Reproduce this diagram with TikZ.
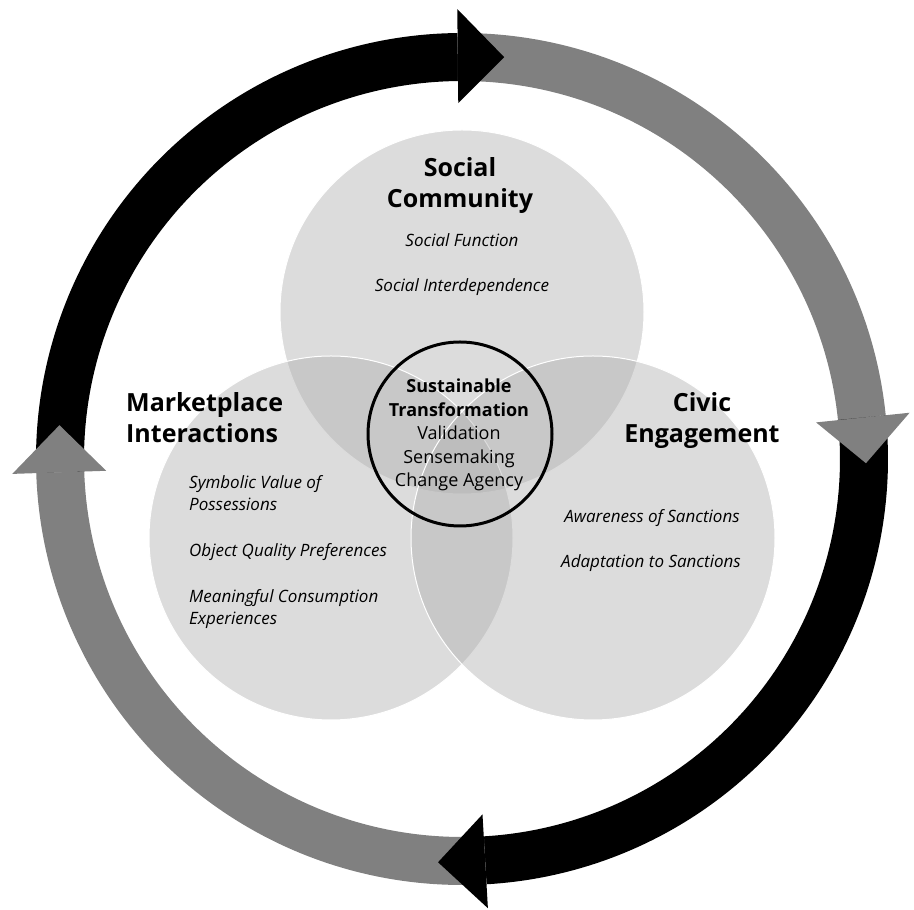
\documentclass[tikz,border=0pt]{standalone}
\usepackage{fontspec}
\setmainfont{Open Sans}
\usetikzlibrary{calc}
\definecolor{ringgray}{HTML}{808080}
\definecolor{vennfill}{HTML}{AEAEAE}
\begin{document}
\begin{tikzpicture}[x=1pt,y=1pt,
  band/.style={line width=48pt},
  venn/.style={fill=vennfill, fill opacity=0.43, draw=white, draw opacity=1, line width=1pt},
  title/.style={font=\bfseries\fontsize{25}{31}\selectfont, inner sep=0pt},
  item/.style={font=\itshape\fontsize{17}{22}\selectfont, inner sep=0pt},
  core/.style={font=\fontsize{18}{23.5}\selectfont, align=center, anchor=base, inner sep=0pt}]
\useasboundingbox (0,0) rectangle (914,910);
\coordinate (C) at (462,451);

% three overlapping spheres
\coordinate (top) at (462,598);
\coordinate (left) at (331,372);
\coordinate (right) at (593,372);
\draw[venn] (top) circle[radius=182];
\draw[venn] (left) circle[radius=182];
\draw[venn] (right) circle[radius=182];

% core circle
\coordinate (core) at (460,476);
\draw[black, line width=3pt] (core) circle[radius=92];

% cycle ring: bands between arrowheads
\draw[band, black] ($(C)+(181.9:402)$) arc[start angle=181.9, end angle=90.6, radius=402];
\draw[band, ringgray] ($(C)+(90.6:402)$) arc[start angle=90.6, end angle=5.9, radius=402];
\draw[band, black] ($(C)+(5.9:402)$) arc[start angle=5.9, end angle=-86.7, radius=402];
\draw[band, ringgray] ($(C)+(273.3:402)$) arc[start angle=273.3, end angle=181.9, radius=402];

% arrowheads
\newcommand{\ringhead}[3]{%
  \fill[#3] ($(C)+(#1:450)$) -- ($(C)+(#2:404)$) -- ($(C)+(#1:356)$) -- cycle;}
\ringhead{90.6}{84}{black}
\ringhead{5.9}{-0.6}{ringgray}
\ringhead{-86.7}{-93.4}{black}
\ringhead{181.9}{175.2}{ringgray}

% headings (base anchor sits on the last line)
\node[title, align=center, anchor=base] (soc) at (460,702) {Social\\Community};
\node[title, align=left, anchor=base west] (mkt) at (126,467) {Marketplace\\Interactions};
\node[title, align=center, anchor=base] (civ) at (702,467) {Civic\\Engagement};

% items
\node[item, anchor=base] (sf) at (462,663) {Social Function};
\node[item, anchor=base] (si) at (462,618) {Social Interdependence};
\node[item, align=left, anchor=base west] (sv) at (189,399) {Symbolic Value of\\Possessions};
\node[item, anchor=base west] (oq) at (189,353) {Object Quality Preferences};
\node[item, align=left, anchor=base west] (mc) at (189,285) {Meaningful Consumption\\Experiences};
\node[item, anchor=base] (aw) at (652,387) {Awareness of Sanctions};
\node[item, anchor=base] (ad) at (651,342) {Adaptation to Sanctions};

% core text
\node[core] (st) at (459,423) {\textbf{Sustainable}\\\textbf{Transformation}\\Validation\\Sensemaking\\Change Agency};
\end{tikzpicture}
\end{document}
